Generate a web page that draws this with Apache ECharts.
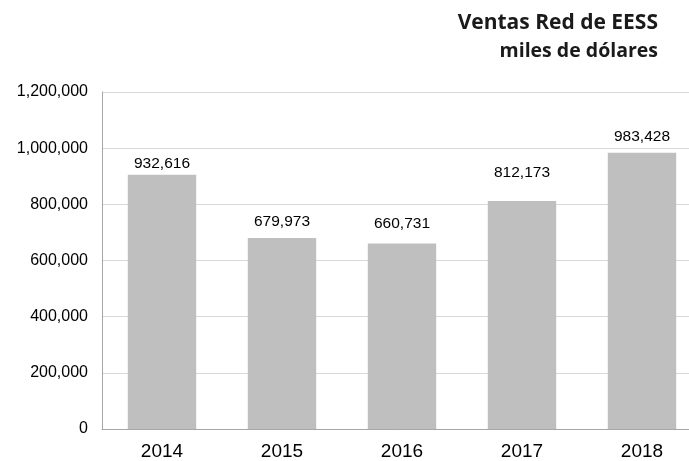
<!DOCTYPE html>
<html>
<head>
<meta charset="utf-8">
<script src="https://cdn.jsdelivr.net/npm/echarts@6/dist/echarts.min.js"></script>
<style>
  html, body { margin: 0; padding: 0; background: #fff; }
  #main { width: 689px; height: 461px; }
</style>
</head>
<body>
<div id="main"></div>
<script>
// datos del gráfico
var years = ['2014', '2015', '2016', '2017', '2018'];
// altura de las barras tal como se ven en la imagen
var barValues = [905000, 679973, 660731, 812173, 983428];
// texto impreso sobre cada barra
var barLabels = ['932,616', '679,973', '660,731', '812,173', '983,428'];
var yTicks = [0, 200000, 400000, 600000, 800000, 1000000, 1200000];

// separación extra de cada etiqueta respecto a la barra
var labelGap = [-2, 3, 7, 15, 3];

var myChart = echarts.init(document.getElementById('main'));

var option = {
    animation: false,
    title: [{
        text: 'Ventas Red de EESS',
        right: 26,
        top: 8,
        textStyle: {
            fontFamily: 'Open Sans',
            fontWeight: 'bold',
            fontSize: 21,
            color: '#1a1a1a'
        }
    }, {
        text: 'miles de dólares',
        right: 26,
        top: 36,
        textStyle: {
            fontFamily: 'Open Sans',
            fontWeight: 'bold',
            fontSize: 19.5,
            color: '#1a1a1a'
        }
    }],
    grid: {
        left: 102,
        width: 600,
        top: 92,
        height: 337,
        outerBoundsMode: 'none'
    },
    xAxis: {
        type: 'category',
        data: years,
        axisLine: { lineStyle: { color: '#a6a6a6', width: 1 } },
        axisTick: { show: false },
        axisLabel: {
            margin: 13,
            fontFamily: 'Liberation Sans',
            fontSize: 19,
            color: '#000'
        }
    },
    yAxis: {
        type: 'value',
        min: yTicks[0],
        max: yTicks[yTicks.length - 1],
        interval: yTicks[1] - yTicks[0],
        axisLine: { show: true, lineStyle: { color: '#a6a6a6', width: 1 } },
        axisTick: { show: false },
        splitLine: { lineStyle: { color: '#d9d9d9', width: 1 } },
        axisLabel: {
            margin: 14,
            fontFamily: 'Liberation Sans',
            fontSize: 16,
            color: '#000',
            formatter: function (v) {
                return v.toLocaleString('en-US');
            }
        }
    },
    series: [{
        type: 'bar',
        barWidth: '57%',
        itemStyle: { color: '#bfbfbf' },
        data: barValues.map(function (v, i) {
            return {
                value: v,
                label: { distance: 5 + labelGap[i] }
            };
        }),
        label: {
            show: true,
            position: 'top',
            fontFamily: 'Liberation Sans',
            fontSize: 15.5,
            color: '#000',
            formatter: function (p) {
                return barLabels[p.dataIndex];
            }
        }
    }]
};

myChart.setOption(option);
</script>
</body>
</html>
